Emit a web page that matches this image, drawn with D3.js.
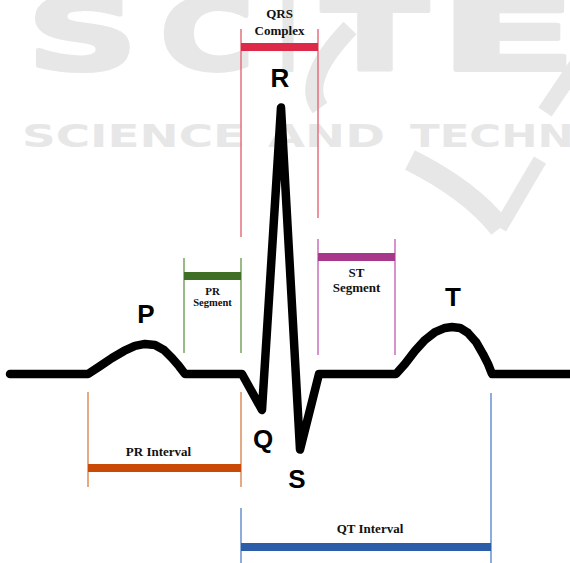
<!DOCTYPE html>
<html lang="en">
<head>
  <meta charset="UTF-8" />
  <title>ECG waveform</title>
  <script src="https://d3js.org/d3.v7.min.js"></script>
  <style>
    body { margin: 0; background: white; }
    svg { display: block; background: white; }
    .wm { fill: #e7e7e7; font-family: "DejaVu Sans", sans-serif; font-weight: bold; }
    .wm-big { stroke: #e7e7e7; stroke-width: 4px; stroke-linejoin: round; }
    .wm-path { fill: none; stroke: #e7e7e7; stroke-linecap: butt; }
    .trace { fill: none; stroke: black; stroke-width: 8.5px; stroke-linejoin: round; stroke-linecap: round; }
    .wave-label { font-family: "Liberation Sans", Arial, sans-serif; font-weight: bold; font-size: 26px; fill: black; text-anchor: middle; dominant-baseline: central; }
    .anno-text { font-family: "Liberation Serif", "Times New Roman", serif; font-weight: bold; fill: #111; text-anchor: middle; dominant-baseline: central; }
  </style>
</head>
<body>
  <svg width="570" height="563"></svg>

  <script>
    // waveform samples: time (ms) and voltage (mV)
    const waveTime = [20, 176, 200, 224, 248, 270, 290, 310, 328, 344, 358, 370,
                      484, 524, 562, 600, 638,
                      792, 810, 830, 850, 870, 890, 904, 920, 936, 952, 966, 976, 984, 1160];
    const waveVolt = [0, 0, 0.044, 0.089, 0.128, 0.156, 0.167, 0.161, 0.133, 0.089, 0.044, 0,
                      0, -0.2, 1.48, -0.42, 0,
                      0, 0.056, 0.128, 0.189, 0.233, 0.256, 0.261, 0.256, 0.228, 0.178, 0.111, 0.056, 0, 0];

    // named waves
    const peakNames = ["P", "Q", "R", "S", "T"];
    const peakTimes = [292, 526, 560, 594, 906];
    const peakVolts = [0.167, -0.2, 1.48, -0.42, 0.261];

    // intervals and segments (ms)
    const annoNames = ["QRS Complex", "PR Segment", "ST Segment", "PR Interval", "QT Interval"];
    const annoStart = [482, 368, 636, 176, 482];
    const annoEnd   = [636, 482, 790, 482, 982];

    const svg = d3.select("svg"),
          width = +svg.attr("width"),
          height = +svg.attr("height");

    const x = d3.scaleLinear().domain([0, 1140]).range([0, width]);
    const y = d3.scaleLinear().domain([-1, 1.5]).range([554, 104]);

    // --- faint publisher watermark in the background
    const wm = svg.append("g");
    [["S", 27, 111], ["C", 160, 94], ["I", 279, 18], ["T", 322, 106], ["E", 439, 138]].forEach(([ch, lx, w]) => {
      wm.append("text").attr("class", "wm wm-big")
        .attr("x", lx).attr("y", 70)
        .attr("font-size", 100)
        .attr("textLength", w).attr("lengthAdjust", "spacingAndGlyphs")
        .text(ch);
    });
    [["SCIENCE", 22, 223], ["AND", 268, 117], ["TECHNOLOGY", 410, 330]].forEach(([word, lx, w]) => {
      wm.append("text").attr("class", "wm")
        .attr("x", lx).attr("y", 147)
        .attr("font-size", 32)
        .attr("textLength", w).attr("lengthAdjust", "spacingAndGlyphs")
        .text(word);
    });
    wm.append("path").attr("class", "wm-path").attr("stroke-width", 18)
      .attr("d", "M350,28 Q300,80 320,108");
    wm.append("path").attr("class", "wm-path").attr("stroke-width", 22)
      .attr("d", "M410,160 Q470,190 500,228");
    wm.append("path").attr("class", "wm-path").attr("stroke-width", 14)
      .attr("d", "M500,228 L540,160");
    wm.append("path").attr("class", "wm-path").attr("stroke-width", 16)
      .attr("d", "M545,112 L580,60");

    // --- annotation styling / placement (levels in mV)
    const annoLayout = [
      { bar: 1.817, left: [1.917, 0.761], right: [1.917, 0.867], wrap: true, ty: [-33, -16], fs: [13, 13], dx: 0, color: "#dc2a48", thin: "#e4707e" },
      { bar: 0.544, left: [0.644, 0.117], right: [0.644, 0.117], wrap: true, ty: [15, 26], fs: [11, 10.5], dx: 0, color: "#3e6f24", thin: "#78a35e" },
      { bar: 0.650, left: [0.750, 0.106], right: [0.750, 0.106], wrap: true, ty: [15, 30], fs: [13, 13], dx: 0, color: "#a6378a", thin: "#c86fbb" },
      { bar: -0.522, left: [-0.100, -0.628], right: [-0.100, -0.628], wrap: false, ty: [-16], fs: [13], dx: -6, color: "#c94a07", thin: "#dd8e5c" },
      { bar: -0.961, left: [-0.744, -1.05], right: [-0.106, -1.05], wrap: false, ty: [-18], fs: [13], dx: 4, color: "#2b5da8", thin: "#6690cc" }
    ];

    const annos = annoNames.map((name, i) => ({
      name, start: annoStart[i], end: annoEnd[i], ...annoLayout[i]
    }));

    const annoG = svg.append("g");

    // thin boundary lines
    annos.forEach(a => {
      [[a.start, a.left], [a.end, a.right]].forEach(([t, span]) => {
        annoG.append("line")
          .attr("x1", x(t)).attr("x2", x(t))
          .attr("y1", y(span[0])).attr("y2", y(span[1]))
          .attr("stroke", a.thin)
          .attr("stroke-width", 1.5);
      });
    });

    // thick bars
    annoG.selectAll(".bar")
      .data(annos)
      .enter()
      .append("line")
      .attr("class", "bar")
      .attr("x1", d => x(d.start))
      .attr("x2", d => x(d.end))
      .attr("y1", d => y(d.bar))
      .attr("y2", d => y(d.bar))
      .attr("stroke", d => d.color)
      .attr("stroke-width", 8);

    // --- ECG trace
    const wave = waveTime.map((t, i) => ({ t, v: waveVolt[i] }));
    const line = d3.line()
      .x(d => x(d.t))
      .y(d => y(d.v));

    svg.append("path")
      .datum(wave)
      .attr("class", "trace")
      .attr("d", line);

    // wave letters
    svg.selectAll(".wave-label")
      .data(peakNames)
      .enter()
      .append("text")
      .attr("class", "wave-label")
      .attr("x", (d, i) => x(peakTimes[i]))
      .attr("y", (d, i) => y(peakVolts[i]) + (peakVolts[i] < 0 ? 29 : -30))
      .text(d => d);

    // interval captions
    annos.forEach(a => {
      const cx = (x(a.start) + x(a.end)) / 2 + a.dx;
      const lines = a.wrap ? a.name.split(" ") : [a.name];
      lines.forEach((txt, j) => {
        annoG.append("text")
          .attr("class", "anno-text")
          .attr("x", cx)
          .attr("y", y(a.bar) + a.ty[j])
          .attr("font-size", a.fs[j])
          .text(txt);
      });
    });
  </script>
</body>
</html>
